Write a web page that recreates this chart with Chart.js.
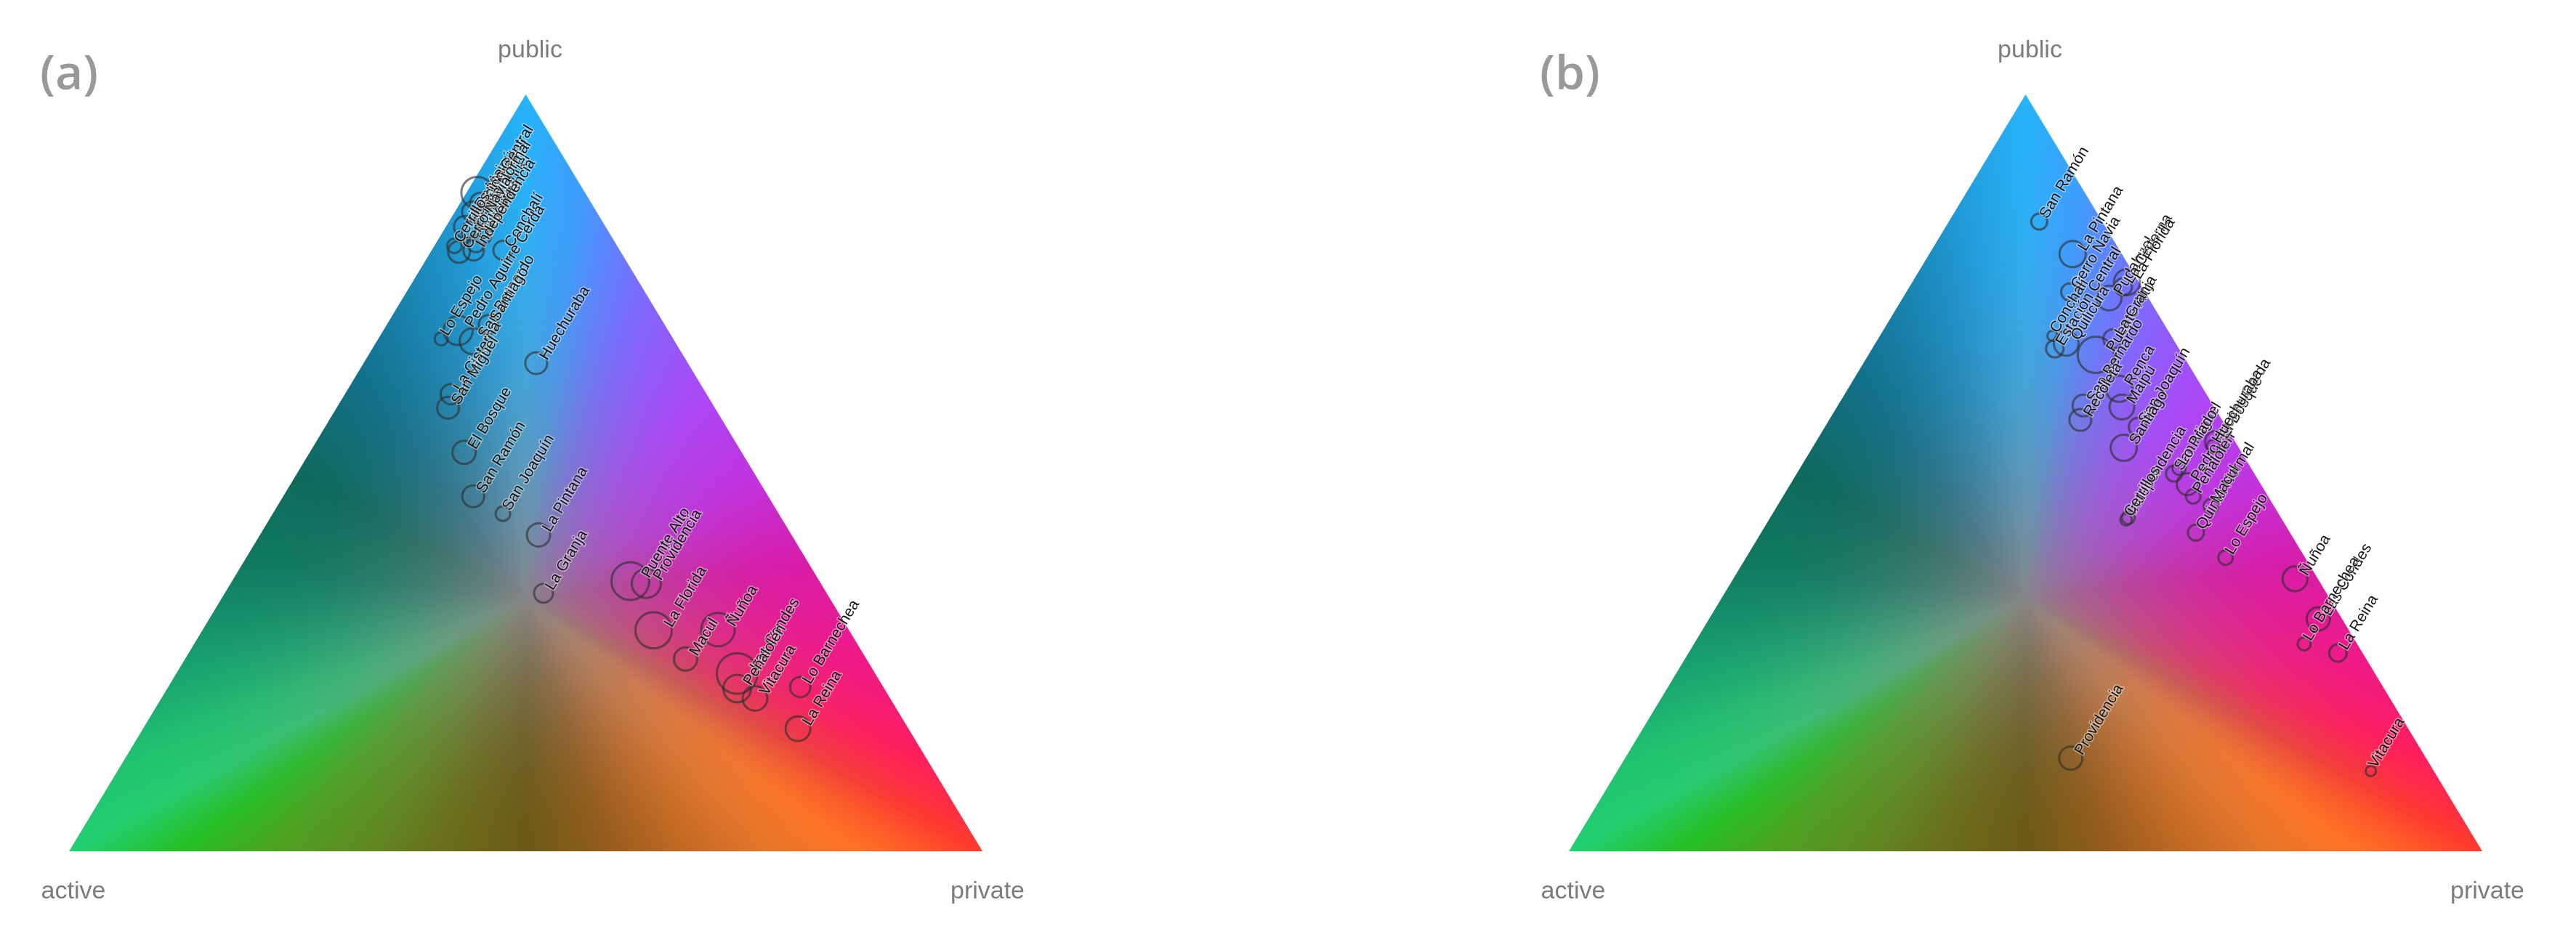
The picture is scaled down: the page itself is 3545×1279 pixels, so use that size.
<!DOCTYPE html>
<html><head><meta charset="utf-8">
<script src="https://cdn.jsdelivr.net/npm/chart.js@4.4.1/dist/chart.umd.min.js"></script>
<style>
html,body{margin:0;padding:0;background:#fff;width:3545px;height:1279px;overflow:hidden}
#wa{position:absolute;left:0;top:0;width:1772px;height:1279px}
#wb{position:absolute;left:1772px;top:0;width:1773px;height:1279px}
canvas{display:block}
</style></head><body>
<div id="wa"><canvas id="ca" width="1772" height="1279"></canvas></div>
<div id="wb"><canvas id="cb" width="1773" height="1279"></canvas></div>
<script>
// ---------- data: panel (a) ----------
const namesA = ["Maipú","Lo Prado","Renca","Pudahuel","Estación Central","Quinta Normal","Recoleta","Quilicura","Cerro Navia","Independencia","Cerrillos","Conchalí","Lo Espejo","Pedro Aguirre Cerda","San Bernardo","Santiago","La Cisterna","San Miguel","Huechuraba","El Bosque","San Ramón","San Joaquín","La Pintana","La Granja","Puente Alto","Providencia","La Florida","Ñuñoa","Macul","Las Condes","Peñalolén","Vitacura","Lo Barnechea","La Reina"];
const publicA  = [87.0,85.6,84.5,84.1,82.5,82.0,81.3,80.3,79.2,79.4,80.0,79.4,67.7,68.8,67.4,69.6,60.4,58.6,64.5,52.7,46.9,44.6,41.8,34.1,35.7,35.4,29.2,29.3,25.4,23.5,21.5,20.2,21.7,16.2];
const privateA = [1.2,2.3,1.9,3.6,2.1,3.0,4.6,4.4,3.1,4.6,2.2,7.8,6.9,8.2,10.5,11.1,11.6,12.2,18.9,16.9,20.8,25.2,30.5,34.9,43.6,45.5,49.4,56.4,54.8,61.4,62.4,65.0,69.2,71.7];
const activeA  = [11.8,12.1,13.6,12.3,15.4,15.0,14.1,15.3,17.7,16.0,17.8,12.8,25.4,23.0,22.1,19.3,28.0,29.2,16.6,30.4,32.3,30.2,27.7,31.0,20.7,19.1,21.4,14.3,19.8,15.1,16.1,14.8,9.1,12.1];
const tripsA   = [242,113,98,113,113,85,72,72,113,98,50,85,41,200,162,85,98,113,113,128,113,50,128,85,338,200,313,265,128,392,181,145,98,145];

// ---------- data: panel (b) ----------
const namesB = ["San Ramón","La Pintana","Cerro Navia","Conchalí","Estación Central","Quilicura","Puente Alto","San Bernardo","Recoleta","La Granja","Pudahuel","La Cisterna","La Florida","Renca","Maipú","San Joaquín","Santiago","Independencia","Cerrillos","San Miguel","Lo Prado","Pedro Aguirre Cerda","Peñalolén","El Bosque","Huechuraba","Quinta Normal","Macul","Lo Espejo","Ñuñoa","Las Condes","Lo Barnechea","La Reina","Vitacura","Providencia"];
const publicB  = [83.2,78.9,73.9,68.1,66.4,67.1,65.6,58.9,57.0,67.7,73.1,74.6,75.2,61.1,58.7,56.1,53.3,44.1,43.8,49.9,50.6,48.5,46.9,54.1,53.5,42.1,45.6,38.8,36.0,30.7,27.4,26.2,10.6,12.3];
const privateB = [9.9,15.7,17.9,18.9,20.0,20.9,24.9,26.9,27.5,25.7,22.6,23.4,23.5,29.7,31.2,34.2,34.1,39.2,39.1,41.3,41.5,43.5,44.9,43.8,43.8,47.6,47.5,52.5,61.5,66.7,66.8,71.1,82.5,48.8];
const activeB  = [6.9,5.4,8.2,13.0,13.6,12.0,9.5,14.2,15.5,6.6,4.3,2.0,1.3,9.2,10.1,9.7,12.6,16.7,17.1,8.8,7.9,8.0,8.2,2.1,2.7,10.3,6.9,8.7,2.5,2.6,5.8,2.7,6.9,38.9];
const tripsB   = [61,162,72,25,72,145,313,113,113,85,145,72,162,162,145,72,162,41,32,61,41,113,50,113,41,61,50,50,145,128,41,72,25,128];

const axisNames = ["public","active","private"];
const panelTags = ["(a)","(b)"];

// ---------- ternary colour scheme ----------
const perimStops = [
  [0.00,'#27b3fb'],[0.12,'#3f9dfd'],[0.25,'#7a6cff'],[0.38,'#a84af8'],[0.50,'#c034e0'],
  [0.62,'#d81ca8'],[0.75,'#ef1a88'],[0.88,'#ff1f5c'],[1.00,'#ff3a2e'],
  [1.07,'#ff5a28'],[1.14,'#ff7424'],[1.23,'#e7762a'],[1.32,'#c46a24'],[1.41,'#945c1c'],
  [1.50,'#6b5a16'],[1.59,'#6a6e1c'],[1.68,'#5f8a22'],[1.79,'#4aa522'],[1.88,'#25c025'],[2.00,'#22d070'],
  [2.13,'#20c070'],[2.25,'#18a070'],[2.38,'#107a60'],[2.50,'#0e6a5c'],[2.63,'#13708a'],
  [2.76,'#1a88b8'],[2.88,'#22a0e0'],[3.00,'#27b3fb']
];
const centreColour = [136,133,135];
function hex2rgb(h){return [parseInt(h.substr(1,2),16),parseInt(h.substr(3,2),16),parseInt(h.substr(5,2),16)];}
const LUTN = 3000;
const LUT = new Float32Array((LUTN+1)*3);
(function(){
  const st = perimStops.map(s=>[s[0],hex2rgb(s[1])]);
  for(let i=0;i<=LUTN;i++){
    const s = 3*i/LUTN;
    let k=0; while(k<st.length-2 && st[k+1][0]<s) k++;
    const a=st[k], b=st[k+1];
    const t = Math.min(1,Math.max(0,(s-a[0])/(b[0]-a[0])));
    for(let c=0;c<3;c++) LUT[i*3+c] = a[1][c]+(b[1][c]-a[1][c])*t;
  }
})();
function ternColour(p,a,r,out){
  const c=1/3, dp=p-c, da=a-c, dr=r-c;
  let t=Infinity;
  if(dp<0) t=Math.min(t,c/-dp);
  if(da<0) t=Math.min(t,c/-da);
  if(dr<0) t=Math.min(t,c/-dr);
  if(!isFinite(t)){out[0]=centreColour[0];out[1]=centreColour[1];out[2]=centreColour[2];return;}
  const f=Math.min(1,1/t);
  const bp=c+t*dp, ba=c+t*da, br=c+t*dr;
  let s;
  if(bp<=ba && bp<=br) s=1+ba; else if(ba<=bp && ba<=br) s=br; else s=2+bp;
  s=Math.max(0,Math.min(3,s));
  const idx=Math.round(s/3*LUTN)*3;
  const g=1-(1-f)*(1-f);
  for(let k=0;k<3;k++) out[k]=centreColour[k]+(LUT[idx+k]-centreColour[k])*g;
}

// ---------- helpers ----------
function toPoints(pub,pri,act,trips){
  return pub.map((v,i)=>{
    const s=pub[i]+pri[i]+act[i];
    const p=pub[i]/s, r=pri[i]/s;
    return {x:r+p/2, y:p, r:Math.sqrt(2*trips[i])};
  });
}

const backgroundPlugin = {
  id:'ternaryBackground',
  beforeDatasetsDraw(chart){
    const xs=chart.scales.x, ys=chart.scales.y, ctx=chart.ctx;
    const xl=xs.getPixelForValue(0), xr=xs.getPixelForValue(1);
    const yb=ys.getPixelForValue(0), yt=ys.getPixelForValue(1);
    const W=xr-xl, H=yb-yt;
    if(!chart.$bg){
      const x0=Math.floor(xl)-2, y0=Math.floor(yt)-2;
      const w=Math.ceil(W)+4, h=Math.ceil(H)+4;
      const off=document.createElement('canvas'); off.width=w; off.height=h;
      const octx=off.getContext('2d');
      const img=octx.createImageData(w,h);
      const d=img.data;
      const side=Math.sqrt((W/2)*(W/2)+H*H);
      const alt=W*H/side;
      const col=[0,0,0];
      for(let j=0;j<h;j++){
        const py=y0+j+0.5;
        const p=(yb-py)/H;
        for(let i=0;i<w;i++){
          const px=x0+i+0.5;
          const u=(px-xl)/W;
          const r=u-p/2, a=1-p-r;
          const dist=Math.min(p*H, r*alt, a*alt);
          const cov=Math.max(0,Math.min(1,dist+0.5));
          if(cov<=0) continue;
          ternColour(Math.max(0,p),Math.max(0,a),Math.max(0,r),col);
          const o=(j*w+i)*4;
          d[o]=col[0]; d[o+1]=col[1]; d[o+2]=col[2]; d[o+3]=Math.round(cov*255);
        }
      }
      octx.putImageData(img,0,0);
      chart.$bg={off,x0,y0};
    }
    ctx.drawImage(chart.$bg.off,chart.$bg.x0,chart.$bg.y0);
  }
};

const labelPlugin = {
  id:'pointLabels',
  afterDatasetsDraw(chart){
    const ctx=chart.ctx, meta=chart.getDatasetMeta(0), names=chart.config.options.plugins.pointLabels.names;
    const xs=chart.scales.x, ys=chart.scales.y;
    const W=xs.getPixelForValue(1)-xs.getPixelForValue(0), H=ys.getPixelForValue(0)-ys.getPixelForValue(1);
    const ang=-Math.atan2(H,W/2);
    ctx.save();
    ctx.font='21px "Liberation Sans", Arial, sans-serif';
    ctx.textBaseline='alphabetic'; ctx.textAlign='left';
    meta.data.forEach((el,i)=>{
      const rr=el.options.radius;
      ctx.save();
      ctx.translate(el.x+rr, el.y-3);
      ctx.rotate(ang);
      ctx.lineWidth=3; ctx.strokeStyle='rgba(255,255,255,0.45)'; ctx.lineJoin='round';
      ctx.strokeText(names[i],0,0);
      ctx.fillStyle='#151515';
      ctx.fillText(names[i],0,0);
      ctx.restore();
    });
    ctx.restore();
  },
  afterDraw(chart){
    const ctx=chart.ctx, o=chart.config.options.plugins.pointLabels;
    const xs=chart.scales.x, ys=chart.scales.y;
    const xl=xs.getPixelForValue(0), xr=xs.getPixelForValue(1), xm=xs.getPixelForValue(0.5);
    const yb=ys.getPixelForValue(0), yt=ys.getPixelForValue(1);
    ctx.save();
    ctx.fillStyle='#7c7c7c';
    ctx.font='34px "Liberation Sans", Arial, sans-serif';
    ctx.textAlign='center'; ctx.textBaseline='middle';
    ctx.fillText(axisNames[0], xm+6, yt-60);
    ctx.fillText(axisNames[1], xl+6, yb+56);
    ctx.fillText(axisNames[2], xr+7, yb+56);
    ctx.fillStyle='#999999';
    ctx.font='600 66px "Open Sans", "Liberation Sans", sans-serif';
    ctx.textAlign='left';
    ctx.fillText(o.tag, xl-40, 104);
    ctx.restore();
  }
};

function makeChart(id,names,pub,pri,act,trips,tag,pad){
  return new Chart(document.getElementById(id),{
    type:'bubble',
    data:{datasets:[{
      data:toPoints(pub,pri,act,trips),
      backgroundColor:'rgba(0,0,0,0)',
      borderColor:'rgba(45,45,45,0.62)',
      borderWidth:3,
      hoverBorderWidth:3,
      clip:false
    }]},
    options:{
      responsive:false, animation:false, devicePixelRatio:1,
      layout:{padding:pad},
      events:[],
      scales:{
        x:{type:'linear',min:0,max:1,display:false},
        y:{type:'linear',min:0,max:1,display:false}
      },
      plugins:{legend:{display:false},tooltip:{enabled:false},
        pointLabels:{names:names,tag:tag}}
    },
    plugins:[backgroundPlugin,labelPlugin]
  });
}

makeChart('ca',namesA,publicA,privateA,activeA,tripsA,panelTags[0],{left:95,right:420,top:130,bottom:107});
makeChart('cb',namesB,publicB,privateB,activeB,tripsB,panelTags[1],{left:387,right:129,top:130,bottom:107});
</script>
</body></html>
